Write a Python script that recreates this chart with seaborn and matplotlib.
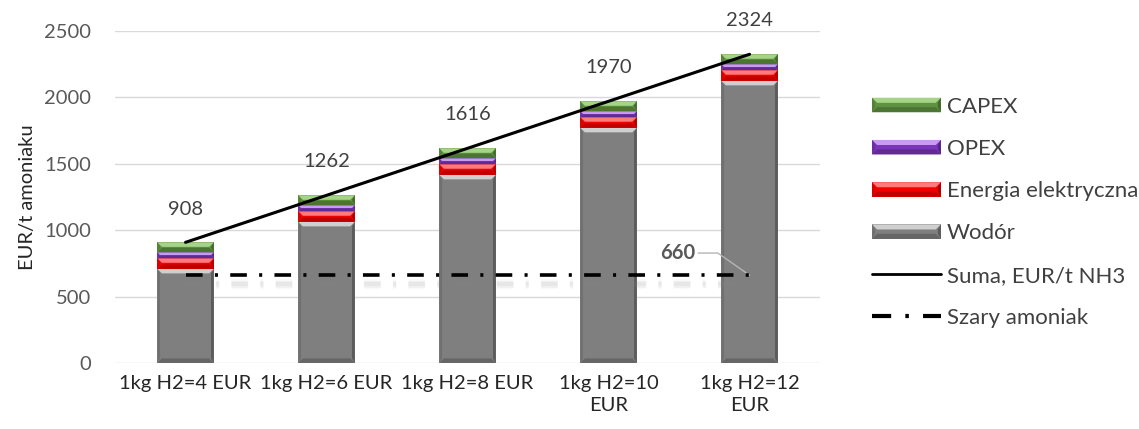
import numpy as np
import pandas as pd
import matplotlib
matplotlib.use("Agg")
import matplotlib.pyplot as plt
import matplotlib.patheffects as pe
from matplotlib.patches import Polygon, Patch, Rectangle
from matplotlib.lines import Line2D
from matplotlib.colors import to_rgb
from matplotlib.legend_handler import HandlerBase
import seaborn as sns

# --- data -------------------------------------------------------------
categories = ["1kg H2=4 EUR", "1kg H2=6 EUR", "1kg H2=8 EUR", "1kg H2=10\nEUR", "1kg H2=12\nEUR"]
wodor = [708, 1062, 1416, 1770, 2124]
energia = [80, 80, 80, 80, 80]
opex = [45, 45, 45, 45, 45]
capex = [75, 75, 75, 75, 75]
szary_amoniak = 660

series_names = ["Wodór", "Energia elektryczna", "OPEX", "CAPEX"]
series_values = [wodor, energia, opex, capex]
series_colors = ["#7f7f7f", "#f20000", "#7a35b8", "#5f9240"]
series_light = ["#cfcfcf", "#ff7b7b", "#c89af0", "#a6d487"]

totals = [sum(v) for v in zip(*series_values)]

FS = 14.5
FS_LEG = 16


def shade(c, f):
    r, g, b = to_rgb(c)
    return (r * f, g * f, b * f)


def bevel_polys(X0, Y0, X1, Y1, d, base, light):
    """Quads giving a raised-bevel look to a rectangle (in any coordinate system)."""
    s = d * 0.6
    return [
        ([(X0, Y1), (X1, Y1), (X1 - d, Y1 - d), (X0 + d, Y1 - d)], light),
        ([(X0, Y0), (X1, Y0), (X1 - d, Y0 + d), (X0 + d, Y0 + d)], shade(base, 0.8)),
        ([(X0, Y0), (X0 + s, Y0 + d), (X0 + s, Y1 - d), (X0, Y1)], shade(base, 0.88)),
        ([(X1, Y0), (X1 - s, Y0 + d), (X1 - s, Y1 - d), (X1, Y1)], shade(base, 0.72)),
    ]


class BevelHandler(HandlerBase):
    def __init__(self, base, light):
        super().__init__()
        self.base, self.light = base, light

    def create_artists(self, legend, orig_handle, xdescent, ydescent, width, height,
                       fontsize, trans):
        x0, y0 = -xdescent, -ydescent
        x1, y1 = x0 + width, y0 + height
        arts = [Rectangle((x0, y0), width, height, facecolor=self.base, edgecolor="none",
                          transform=trans)]
        for pts, col in bevel_polys(x0, y0, x1, y1, height * 0.35, self.base, self.light):
            arts.append(Polygon(pts, closed=True, facecolor=col, edgecolor="none",
                                transform=trans))
        return arts


# --- style ------------------------------------------------------------
sns.set_theme(style="white")
plt.rcParams["font.family"] = ["Lato", "DejaVu Sans"]

fig = plt.figure(figsize=(11.39, 4.29), dpi=100)
ax = fig.add_axes([0.101, 0.154, 0.619, 0.774])

df = pd.DataFrame({"cat": categories})
bottom = np.zeros(len(categories))
for name, vals, col in zip(series_names, series_values, series_colors):
    df["val"] = vals
    sns.barplot(data=df, x="cat", y="val", color=col, width=0.4, bottom=bottom.copy(),
                errorbar=None, saturation=1, ax=ax, linewidth=0)
    bottom += np.asarray(vals)

ax.set_xlim(-0.5, len(categories) - 0.5)
ax.set_ylim(0, 2500)
ax.set_yticks(np.arange(0, 2501, 500))

# bevel shading on each bar segment
bars = list(ax.patches)
per = len(categories)
inv = ax.transData.inverted()
for i, bar in enumerate(bars):
    base = series_colors[i // per]
    light = series_light[i // per]
    x0, y0 = bar.get_x(), bar.get_y()
    w, h = bar.get_width(), bar.get_height()
    p0 = ax.transData.transform((x0, y0))
    p1 = ax.transData.transform((x0 + w, y0 + h))
    d = min(4.5, (p1[1] - p0[1]) / 2.0)
    for pts, col in bevel_polys(p0[0], p0[1], p1[0], p1[1], d, base, light):
        ax.add_patch(Polygon(inv.transform(pts), closed=True, facecolor=col,
                             edgecolor="none", zorder=bar.get_zorder() + 0.1))

xpos = np.arange(len(categories))

# total cost line
sns.lineplot(x=xpos, y=totals, color="black", linewidth=2.2, ax=ax, zorder=5)
for xp, t in zip(xpos, totals):
    ax.annotate(f"{t}", (xp, t), xytext=(0, 24), textcoords="offset points",
                ha="center", va="center", fontsize=FS, color="#404040",
                annotation_clip=False)

# grey ammonia reference line with a soft shadow
dashdot = (0, (4.6, 3.4, 0.85, 3.4))
soft_shadow = [pe.SimpleLineShadow(offset=(1, -6), shadow_color="#8c8c8c", alpha=a, linewidth=lw)
               for a, lw in ((0.05, 7), (0.07, 5), (0.09, 3))]
grey_line = [szary_amoniak] * len(categories)
sns.lineplot(x=xpos, y=grey_line, color="black", linewidth=2.6, linestyle=dashdot,
             ax=ax, zorder=5, path_effects=soft_shadow + [pe.Normal()])
ax.annotate(f"{szary_amoniak}", xy=(xpos[-1], szary_amoniak), xytext=(-52, 16),
            textcoords="offset points", ha="center", va="center", fontsize=FS,
            fontweight="bold", color="#595959",
            arrowprops=dict(arrowstyle="-", color="#b5b5b5", lw=1, relpos=(1, 0.5),
                            connectionstyle="angle,angleA=0,angleB=-35,rad=0",
                            shrinkA=0, shrinkB=0))

# axes styling
ax.set_xticks(xpos)
ax.set_xticklabels(categories, fontsize=FS, color="#262626", linespacing=1.3)
ax.tick_params(axis="y", labelsize=FS, labelcolor="#595959", length=0, pad=17)
ax.tick_params(axis="x", length=0, pad=9)
ax.grid(axis="y", color="#d9d9d9", linewidth=1)
ax.set_axisbelow(True)
for s in ax.spines.values():
    s.set_visible(False)
ax.set_xlabel("")
ax.set_ylabel("EUR/t amoniaku", fontsize=FS, color="#262626", labelpad=6)

# legend
bar_handles = [Patch(facecolor=c) for c in series_colors[::-1]]
handler_map = {h: BevelHandler(c, l)
               for h, c, l in zip(bar_handles, series_colors[::-1], series_light[::-1])}
handles = bar_handles + [Line2D([], [], color="black", linewidth=2),
                         Line2D([], [], color="black", linewidth=3, linestyle=dashdot)]
labels = series_names[::-1] + ["Suma, EUR/t NH3", "Szary amoniak"]
leg = fig.legend(handles, labels, loc="center left", bbox_to_anchor=(0.7656, 0.505),
                 frameon=False, fontsize=FS_LEG, handlelength=3.1, handleheight=0.63,
                 labelspacing=1.0, handletextpad=0.27, borderpad=0, borderaxespad=0,
                 labelcolor="#404040", handler_map=handler_map)

fig.savefig("out.png", dpi=100)
